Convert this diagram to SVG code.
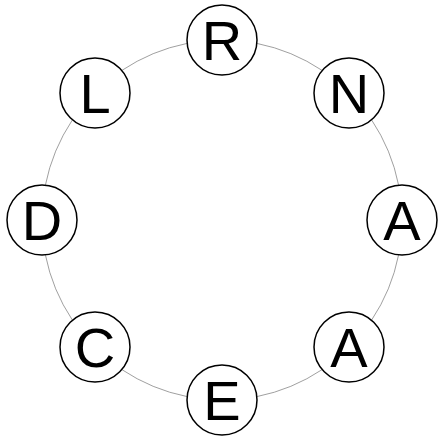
<svg xmlns="http://www.w3.org/2000/svg" width="439" height="438" viewBox="0 0 439 438">
<style>
.ring{fill:none;stroke:#a0a0a0;stroke-width:1}
.node circle{fill:#fff;stroke:#000;stroke-width:1.5}
.node text{font-family:"Liberation Sans",Arial,sans-serif;font-size:56px;fill:#000;text-anchor:middle;dominant-baseline:central}
</style>
<rect width="439" height="438" fill="#fff"/>
<g id="connectors">
<circle class="ring" cx="222" cy="220" r="180"/>
</g>
<g id="node-R" class="node"><circle cx="222" cy="40" r="35"/><text x="222" y="40">R</text></g>
<g id="node-N" class="node"><circle cx="349" cy="93" r="35"/><text x="349" y="93">N</text></g>
<g id="node-A1" class="node"><circle cx="402" cy="220" r="35"/><text x="402" y="220">A</text></g>
<g id="node-A2" class="node"><circle cx="349" cy="347" r="35"/><text x="349" y="347">A</text></g>
<g id="node-E" class="node"><circle cx="222" cy="400" r="35"/><text x="222" y="400">E</text></g>
<g id="node-C" class="node"><circle cx="95" cy="347" r="35"/><text x="95" y="347">C</text></g>
<g id="node-D" class="node"><circle cx="42" cy="220" r="35"/><text x="42" y="220">D</text></g>
<g id="node-L" class="node"><circle cx="95" cy="93" r="35"/><text x="95" y="93">L</text></g>
</svg>
